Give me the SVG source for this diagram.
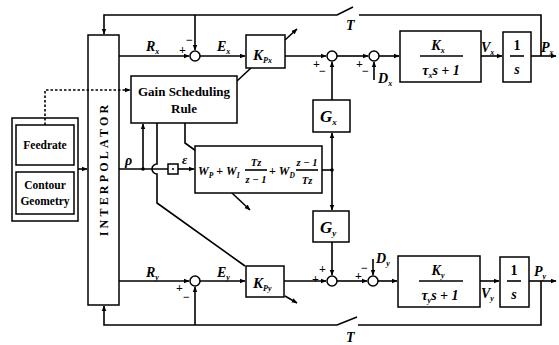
<svg xmlns="http://www.w3.org/2000/svg" width="559" height="345" viewBox="0 0 559 345">
<style>
.ln{stroke:#000;stroke-width:1.6;fill:none}
.bx{fill:#fff;stroke:#000;stroke-width:1.5}
.ob{fill:none;stroke:#000;stroke-width:1.5}
.v{font-family:"Liberation Serif",serif;font-style:italic;font-weight:bold;fill:#000}
.t{font-family:"Liberation Serif",serif;font-weight:bold;fill:#000}
.s{font-family:"Liberation Serif",serif;font-weight:bold;font-size:12px;fill:#000}
</style>
<defs>
<marker id="ar" viewBox="0 0 10 10" refX="9" refY="5" markerWidth="6" markerHeight="6" markerUnits="userSpaceOnUse" orient="auto">
<path d="M0,1 L10,5 L0,9 Z" fill="#000"/>
</marker>
</defs>
<rect width="559" height="345" fill="#fff"/>

<g id="interpolator">
<rect class="ob" x="88" y="35" width="31" height="270"/>
<text class="t" font-size="12" letter-spacing="3.2" text-anchor="middle" transform="translate(108,169) rotate(-90)">INTERPOLATOR</text>
</g>

<g id="inputs">
<rect class="ob" x="12" y="118" width="66" height="103"/>
<g id="feedrate">
<rect class="bx" x="16" y="125" width="58" height="40"/>
<text class="t" font-size="11.5" x="45" y="149" text-anchor="middle">Feedrate</text>
</g>
<g id="contour">
<rect class="bx" x="16" y="172" width="58" height="42"/>
<text class="t" font-size="11.5" x="45" y="189" text-anchor="middle">Contour</text>
<text class="t" font-size="11.5" x="45" y="205" text-anchor="middle">Geometry</text>
</g>
</g>

<g id="connectors">
<path class="ln" d="M541,56 V15 H359"/>
<path class="ln" d="M353,7 L337,15 H104 V34" marker-end="url(#ar)"/>
<path class="ln" d="M195,15 V50" marker-end="url(#ar)"/>
<path class="ln" d="M119,56 H189" marker-end="url(#ar)"/>
<path class="ln" d="M200,56 H245" marker-end="url(#ar)"/>
<path class="ln" d="M285,56 H326" marker-end="url(#ar)"/>
<path class="ln" d="M332,100 V62" marker-end="url(#ar)"/>
<path class="ln" d="M337,56 H368" marker-end="url(#ar)"/>
<path class="ln" d="M374,80 V62" marker-end="url(#ar)"/>
<path class="ln" d="M379,56 H399" marker-end="url(#ar)"/>
<path class="ln" d="M481,56 H502" marker-end="url(#ar)"/>
<path class="ln" d="M531,56 H556" marker-end="url(#ar)"/>
<path class="ln" d="M237,81 L251,68"/>
<path class="ln" d="M285,40 L297,29" marker-end="url(#ar)"/>
<path class="ln" d="M45,125 V90 H130" stroke-dasharray="2.5,2" marker-end="url(#ar)"/>
<path class="ln" d="M78,169 H87" marker-end="url(#ar)"/>
<path class="ln" d="M119,169 H168"/>
<path class="ln" d="M143,169 V124" marker-end="url(#ar)"/>
<circle cx="143" cy="169" r="1.8" fill="#000"/>
<path class="ln" d="M157,123 V164 A5,5 0 0 0 157,174 V203 L245,266"/>
<path class="ln" d="M185,123 V143 L203,156"/>
<path class="ln" d="M215,177 L250,210" marker-end="url(#ar)"/>
<path class="ln" d="M178,169 H194" marker-end="url(#ar)"/>
<path class="ln" d="M322,170 H332"/>
<circle cx="332" cy="170" r="1.8" fill="#000"/>
<path class="ln" d="M332,170 V133" marker-end="url(#ar)"/>
<path class="ln" d="M332,170 V210" marker-end="url(#ar)"/>
<path class="ln" d="M332,242 V275" marker-end="url(#ar)"/>
<path class="ln" d="M119,281 H189" marker-end="url(#ar)"/>
<path class="ln" d="M200,281 H245" marker-end="url(#ar)"/>
<path class="ln" d="M284,281 H326" marker-end="url(#ar)"/>
<path class="ln" d="M337,281 H367" marker-end="url(#ar)"/>
<path class="ln" d="M373,259 V275" marker-end="url(#ar)"/>
<path class="ln" d="M378,281 H397" marker-end="url(#ar)"/>
<path class="ln" d="M480,281 H499" marker-end="url(#ar)"/>
<path class="ln" d="M529,281 H556" marker-end="url(#ar)"/>
<path class="ln" d="M541,281 V325 H358"/>
<path class="ln" d="M357,317 L337,325 H104 V306" marker-end="url(#ar)"/>
<path class="ln" d="M195,325 V287" marker-end="url(#ar)"/>
<path class="ln" d="M285,296 L297,303" marker-end="url(#ar)"/>
</g>

<g id="gain-scheduling">
<rect class="bx" x="131" y="76" width="106" height="47"/>
<text class="t" font-size="13" x="184" y="96" text-anchor="middle">Gain Scheduling</text>
<text class="t" font-size="13" x="184" y="113" text-anchor="middle">Rule</text>
</g>

<g id="multiplier">
<rect class="bx" x="168" y="164" width="10" height="10"/>
<circle cx="173" cy="169" r="1" fill="#000"/>
</g>

<g id="pid">
<rect class="bx" x="195" y="146" width="127" height="47"/>
<text class="v" font-size="12" x="198" y="175">W<tspan font-size="7.5" dy="3">P</tspan><tspan dy="-3" font-style="normal"> + </tspan>W<tspan font-size="7.5" dy="3">I</tspan></text>
<text class="v" font-size="10.5" x="256" y="166" text-anchor="middle">Tz</text>
<path class="ln" stroke-width="1" d="M245,170 H267"/>
<text class="v" font-size="10.5" x="256" y="183" text-anchor="middle">z − 1</text>
<text class="v" font-size="12" x="269" y="175"><tspan font-style="normal">+ </tspan>W<tspan font-size="7.5" dy="3">D</tspan></text>
<text class="v" font-size="10.5" x="307" y="166" text-anchor="middle">z − 1</text>
<path class="ln" stroke-width="1" d="M296,170 H318"/>
<text class="v" font-size="10.5" x="307" y="184" text-anchor="middle">Tz</text>
</g>

<g id="kpx">
<rect class="bx" x="246" y="35" width="39" height="33"/>
<text class="v" font-size="15" x="253" y="60">K<tspan font-size="8" dy="3">Px</tspan></text>
</g>
<g id="kpy">
<rect class="bx" x="246" y="266" width="38" height="31"/>
<text class="v" font-size="15" x="253" y="288">K<tspan font-size="8" dy="3">Py</tspan></text>
</g>
<g id="gx">
<rect class="bx" x="313" y="100" width="37" height="32"/>
<text class="v" font-size="17" x="320" y="122">G<tspan font-size="9" dy="3">x</tspan></text>
</g>
<g id="gy">
<rect class="bx" x="313" y="211" width="36" height="31"/>
<text class="v" font-size="17" x="320" y="233">G<tspan font-size="9" dy="3">y</tspan></text>
</g>

<g id="kx">
<rect class="bx" x="400" y="31" width="81" height="51"/>
<text class="v" font-size="14" x="438" y="50" text-anchor="middle">K<tspan font-size="8" dy="3">x</tspan></text>
<path class="ln" stroke-width="1.2" d="M420,56 H463"/>
<text class="v" font-size="14" x="441" y="75" text-anchor="middle">τ<tspan font-size="8" dy="3">x</tspan><tspan dy="-3">s + 1</tspan></text>
</g>
<g id="ky">
<rect class="bx" x="398" y="256" width="82" height="51"/>
<text class="v" font-size="14" x="438" y="275" text-anchor="middle">K<tspan font-size="8" dy="3">y</tspan></text>
<path class="ln" stroke-width="1.2" d="M419,281 H463"/>
<text class="v" font-size="14" x="440" y="300" text-anchor="middle">τ<tspan font-size="8" dy="3">y</tspan><tspan dy="-3">s + 1</tspan></text>
</g>
<g id="intx">
<rect class="bx" x="503" y="32" width="28" height="50"/>
<text class="t" font-size="14" x="517" y="50" text-anchor="middle">1</text>
<path class="ln" stroke-width="1.2" d="M510,56 H524"/>
<text class="v" font-size="14" x="517" y="74" text-anchor="middle">s</text>
</g>
<g id="inty">
<rect class="bx" x="500" y="257" width="29" height="50"/>
<text class="t" font-size="14" x="514" y="275" text-anchor="middle">1</text>
<path class="ln" stroke-width="1.2" d="M507,281 H521"/>
<text class="v" font-size="14" x="514" y="299" text-anchor="middle">s</text>
</g>

<g id="junctions" fill="#fff" stroke="#000" stroke-width="1.5">
<circle id="j1" cx="195" cy="56" r="5"/>
<circle id="j2" cx="332" cy="56" r="5"/>
<circle id="j3" cx="374" cy="56" r="5"/>
<circle id="j4" cx="195" cy="281" r="5"/>
<circle id="j5" cx="332" cy="281" r="5"/>
<circle id="j6" cx="373" cy="281" r="5"/>
</g>

<g id="signs">
<text class="s" x="179" y="54">+</text><text class="s" x="186" y="44">−</text>
<text class="s" x="313" y="68">+</text><text class="s" x="319" y="75">−</text>
<text class="s" x="356" y="68">+</text><text class="s" x="362" y="75">−</text>
<text class="s" x="176" y="292">+</text><text class="s" x="183" y="301">−</text>
<text class="s" x="312" y="283">+</text><text class="s" x="319" y="273">+</text>
<text class="s" x="355" y="280">+</text><text class="s" x="361" y="272">−</text>
</g>

<g id="labels">
<text class="v" font-size="14" x="146" y="51">R<tspan font-size="8" dy="3">x</tspan></text>
<text class="v" font-size="14" x="217" y="51">E<tspan font-size="8" dy="3">x</tspan></text>
<text class="v" font-size="14" x="346" y="30">T</text>
<text class="v" font-size="14" x="481" y="52">V<tspan font-size="8" dy="3">x</tspan></text>
<text class="v" font-size="14" x="541" y="52">P<tspan font-size="8" dy="3">x</tspan></text>
<text class="v" font-size="14" x="378" y="83">D<tspan font-size="8" dy="3">x</tspan></text>
<text class="v" font-size="14" x="125" y="165">ρ</text>
<text class="v" font-size="13" x="182" y="164">ε</text>
<text class="v" font-size="14" x="146" y="277">R<tspan font-size="8" dy="3">y</tspan></text>
<text class="v" font-size="14" x="217" y="277">E<tspan font-size="8" dy="3">y</tspan></text>
<text class="v" font-size="14" x="346" y="342">T</text>
<text class="v" font-size="14" x="481" y="298">V<tspan font-size="8" dy="3">y</tspan></text>
<text class="v" font-size="14" x="534" y="276">P<tspan font-size="8" dy="3">y</tspan></text>
<text class="v" font-size="14" x="376" y="263">D<tspan font-size="8" dy="3">y</tspan></text>
</g>
</svg>
